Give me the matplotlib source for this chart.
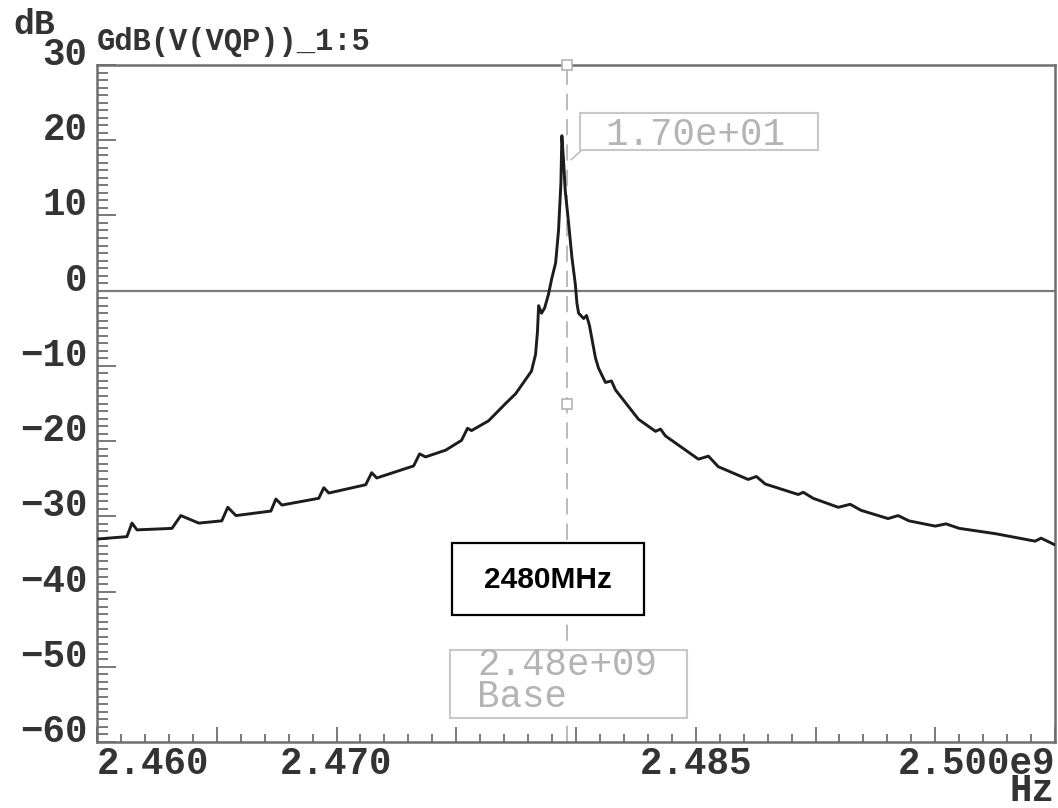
import numpy as np
import matplotlib
matplotlib.use("Agg")
import matplotlib.pyplot as plt
from matplotlib.patches import Rectangle
from matplotlib.ticker import MultipleLocator

# frecuencia (GHz) y ganancia (dB)
freq_ghz = [2.46008, 2.46125, 2.46146, 2.46167, 2.46313, 2.46350, 2.46425, 2.46521,
            2.46546, 2.46580, 2.46726, 2.46747, 2.46772, 2.46926, 2.46947, 2.46968,
            2.47122, 2.47147, 2.47168, 2.47322, 2.47347, 2.47372, 2.47456, 2.47522,
            2.47547, 2.47564, 2.47635, 2.47706, 2.47748, 2.47814, 2.47831, 2.47839,
            2.47844, 2.47856, 2.47869, 2.47885, 2.47898, 2.47915, 2.47927, 2.47937,
            2.47941, 2.47948, 2.47955, 2.47969, 2.47983, 2.47997, 2.48004, 2.48011,
            2.48032, 2.48044, 2.48056, 2.48081, 2.48094, 2.48123, 2.48148, 2.48165,
            2.48261, 2.48332, 2.48353, 2.48373, 2.48511, 2.48553, 2.48594,
            2.48719, 2.48753, 2.48790, 2.48928, 2.48949, 2.48990, 2.49095, 2.49145,
            2.49190, 2.49303, 2.49345, 2.49390, 2.49500, 2.49545, 2.49600, 2.49750,
            2.49800, 2.49917, 2.49942, 2.50000]
gain_db = [-33.0, -32.7, -30.9, -31.8, -31.6, -29.9, -30.9, -30.6,
           -28.8, -29.9, -29.3, -27.7, -28.5, -27.6, -26.2, -26.9,
           -25.8, -24.2, -24.9, -23.3, -21.7, -22.1, -21.2, -19.9,
           -18.3, -18.6, -17.3, -15.0, -13.7, -10.7, -8.5, -5.5,
           -2.0, -3.0, -2.3, -0.5, 1.5, 3.7, 8.0, 14.3,
           20.6, 17.3, 13.3, 9.0, 4.4, 0.9, -1.7, -3.0,
           -3.7, -3.3, -4.6, -8.9, -10.3, -12.2, -12.0, -13.2,
           -17.1, -18.7, -18.4, -19.3, -22.4, -22.0, -23.4,
           -25.1, -24.7, -25.7, -27.1, -26.8, -27.6, -28.8, -28.4,
           -29.2, -30.3, -29.9, -30.6, -31.3, -31.0, -31.6, -32.3,
           -32.6, -33.3, -32.9, -33.8]

x_ticks = [2.460, 2.465, 2.470, 2.475, 2.480, 2.485, 2.490, 2.495, 2.500]
# la unidad "Hz" va debajo del ultimo rotulo
x_labels = ["2.460", "", "2.470", "", "", "2.485", "", "", "2.500e9\nHz"]
y_ticks = [-60, -50, -40, -30, -20, -10, 0, 10, 20, 30]
y_labels = ["\u221260", "\u221250", "\u221240", "\u221230", "\u221220",
            "\u221210", "0", "10", "20", "30"]

marker_freq = 2.47962
marker_value = "1.70e+01"
marker_base = "2.48e+09\nBase"
marker_squares = [30, -15]

mono = ["Liberation Mono", "DejaVu Sans Mono"]
axis_gray = "#6e6e6e"
light = "#b4b4b4"
txt = "#333333"

fig = plt.figure(figsize=(10.58, 8.08), dpi=100)
ax = fig.add_axes([97 / 1058, 1 - 742 / 808, 958 / 1058, 677 / 808])

ax.plot(freq_ghz, gain_db, color="#1c1c1c", lw=2.1, zorder=4)
ax.axhline(0, color="#7a7a7a", lw=1.6, zorder=2)

# marcador
ax.axvline(marker_freq, color=light, lw=1.3, dashes=(9, 5), zorder=1)
ax.plot([marker_freq] * len(marker_squares), marker_squares, ls="none", marker="s",
        ms=7, mfc="white", mec=light, mew=1.2, zorder=3, clip_on=False)
ax.plot([2.47979, 2.48025], [17.4, 18.7], color=light, lw=1.0, zorder=3)

ax.add_patch(Rectangle((2.48017, 18.70), 0.00993, 4.92, facecolor="white",
                       ec="#c8c8c8", lw=1.5, zorder=3))
ax.text(2.48123, 20.69, marker_value, ha="left", va="center", color=light,
        fontsize=27, family=mono, zorder=3)

ax.add_patch(Rectangle((2.47474, -56.84), 0.00990, 9.05, facecolor="white",
                       ec="#c8c8c8", lw=1.5, zorder=3))
ax.text(2.47587, -51.9, marker_base, ha="left", va="center", color=light,
        fontsize=27, family=mono, linespacing=0.85, zorder=3)

# recuadro de la frecuencia
ax.add_patch(Rectangle((2.47482, -43.14), 0.00802, 9.58, facecolor="white",
                       ec="black", lw=1.6, zorder=5))
ax.text(2.47883, -38.4, "2480MHz", ha="center", va="center", fontsize=21.5,
        fontweight="bold", family=["Liberation Sans", "DejaVu Sans"], zorder=6)

ax.set_xlim(2.46, 2.50)
ax.set_ylim(-60, 30)
ax.set_xticks(x_ticks)
ax.set_xticklabels(x_labels)
ax.set_yticks(y_ticks)
ax.set_yticklabels(y_labels)
ax.xaxis.set_minor_locator(MultipleLocator(0.001))
ax.yaxis.set_minor_locator(MultipleLocator(1))

ax.tick_params(axis="both", which="both", direction="in", color=axis_gray,
               width=1.3, top=False, right=False)
ax.tick_params(axis="y", which="major", length=14, pad=7)
ax.tick_params(axis="y", which="minor", length=8)
ax.tick_params(axis="x", which="major", length=11, pad=3)
ax.tick_params(axis="x", which="minor", length=6)

for lab in ax.get_xticklabels() + ax.get_yticklabels():
    lab.set_family(mono)
    lab.set_fontsize(27)
    lab.set_fontweight("bold")
    lab.set_color(txt)
for lab in ax.get_yticklabels():
    lab.set_verticalalignment("baseline")
ax.get_xticklabels()[0].set_horizontalalignment("left")
last = ax.get_xticklabels()[-1]
last.set_horizontalalignment("right")
last.set_multialignment("right")
last.set_linespacing(0.68)

for s in ax.spines.values():
    s.set_color(axis_gray)
    s.set_linewidth(1.8)

fig.text(13 / 1058, 1 - 24 / 808, "dB", ha="left", va="center", fontsize=25,
         fontweight="bold", family=mono, color=txt)
fig.text(97 / 1058, 1 - 42 / 808, "GdB(V(VQP))_1:5", ha="left", va="center",
         fontsize=22, fontweight="bold", family=mono, color=txt)

fig.savefig("out.png", dpi=100, facecolor="white")
